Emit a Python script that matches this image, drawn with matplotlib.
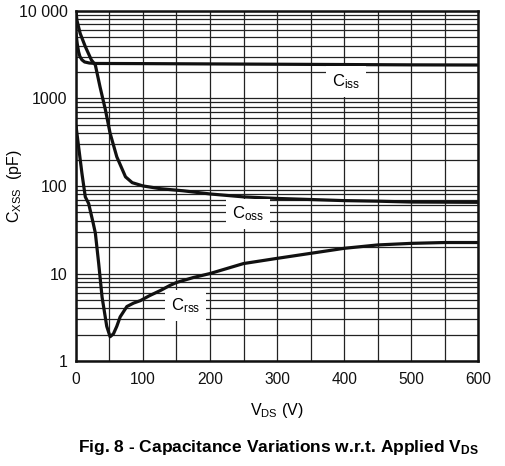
import matplotlib
matplotlib.use('Agg')
import matplotlib.pyplot as plt
from matplotlib.ticker import FixedLocator, NullFormatter
import numpy as np

plt.rcParams['font.family'] = ['Liberation Sans', 'DejaVu Sans']
plt.rcParams['mathtext.fontset'] = 'custom'
plt.rcParams['mathtext.rm'] = 'Liberation Sans'
plt.rcParams['mathtext.it'] = 'Liberation Sans:italic'
plt.rcParams['mathtext.bf'] = 'Liberation Sans:bold'

# values (V, pF)
ciss_v = [0, 2, 4, 6, 9, 13, 20, 30, 100, 200, 300, 400, 500, 600]
ciss_c = [5600, 4200, 3400, 3000, 2750, 2600, 2530, 2500, 2490, 2470, 2450, 2430, 2410, 2400]

coss_v = [0, 1.5, 6.4, 14, 23, 29, 36, 44, 51, 61, 74, 84, 100, 126, 160,
          200, 250, 300, 350, 400, 450, 500, 600]
coss_c = [10000, 7800, 5500, 3900, 2750, 2400, 1350, 740, 400, 215, 127, 109, 100, 93, 88,
          81, 75, 72, 70, 68, 67, 65.5, 65]

crss_v = [0, 9, 14, 19, 26, 29, 34, 39, 46, 51, 56, 61, 66, 76, 86, 96, 110, 126,
          140, 150, 175, 200, 250, 300, 350, 400, 450, 500, 550, 600]
crss_c = [495, 139, 75, 63, 37, 29, 13, 5.4, 2.5, 1.9, 2.05, 2.5, 3.2, 4.2, 4.6, 4.9, 5.6, 6.4,
          7.3, 7.9, 9.0, 10, 13, 14.9, 17, 19.4, 21.2, 22.1, 22.6, 22.6]

x_ticks = [0, 100, 200, 300, 400, 500, 600]
y_ticks = [1, 10, 100, 1000, 10000]
y_tick_labels = ['1', '10', '100', '1000', '10 000']

fig = plt.figure(figsize=(5.06, 4.66), dpi=100)
ax = fig.add_axes([0.150, 0.225, 0.795, 0.752])

ax.set_yscale('log')
ax.set_xlim(0, 600)
ax.set_ylim(1, 10000)

ax.set_xticks(x_ticks)
ax.xaxis.set_minor_locator(FixedLocator(np.arange(50, 600, 100)))
ax.set_yticks(y_ticks)
ax.set_yticklabels(y_tick_labels)
minor_y = [m * 10.0**d for d in range(0, 4) for m in range(2, 10)]
ax.yaxis.set_minor_locator(FixedLocator(minor_y))
ax.yaxis.set_minor_formatter(NullFormatter())
ax.tick_params(which='both', length=0, colors='#111111')
ax.tick_params(axis='x', pad=8, labelsize=11.2)
ax.tick_params(axis='y', pad=6, labelsize=11.5)

ax.grid(which='both', color='#222222', linewidth=0.9)
ax.set_axisbelow(True)
for s in ax.spines.values():
    s.set_linewidth(1.8)
    s.set_color('#111111')

lw = 2.3
ax.plot(ciss_v, ciss_c, color='#111111', lw=lw, solid_capstyle='butt')
ax.plot(coss_v, coss_c, color='#111111', lw=lw, solid_capstyle='butt')
ax.plot(crss_v, crss_c, color='#111111', lw=lw, solid_capstyle='butt')

box = dict(boxstyle='square,pad=0.35', facecolor='white', edgecolor='none')
ax.text(403, 1550, r'$\mathrm{C_{iss}}$', fontsize=12, ha='center', va='center', bbox=box)
ax.text(257, 48, r'$\mathrm{C_{oss}}$', fontsize=12, ha='center', va='center', bbox=box)
ax.text(164, 4.3, r'$\mathrm{C_{rss}}$', fontsize=12, ha='center', va='center', bbox=box)

ax.set_xlabel(r'$\mathrm{V_{DS}}$ (V)', fontsize=11.5, labelpad=10)
ax.set_ylabel(r'$\mathrm{C_{XSS}}$  (pF)', fontsize=11.5)
ax.yaxis.set_label_coords(-0.13, 0.5)

fig.text(0.55, 0.04, r'Fig. 8 - Capacitance Variations w.r.t. Applied $\mathbf{V_{DS}}$',
         fontsize=12.5, fontweight='bold', ha='center', va='center')

fig.savefig('out.png', dpi=100)
